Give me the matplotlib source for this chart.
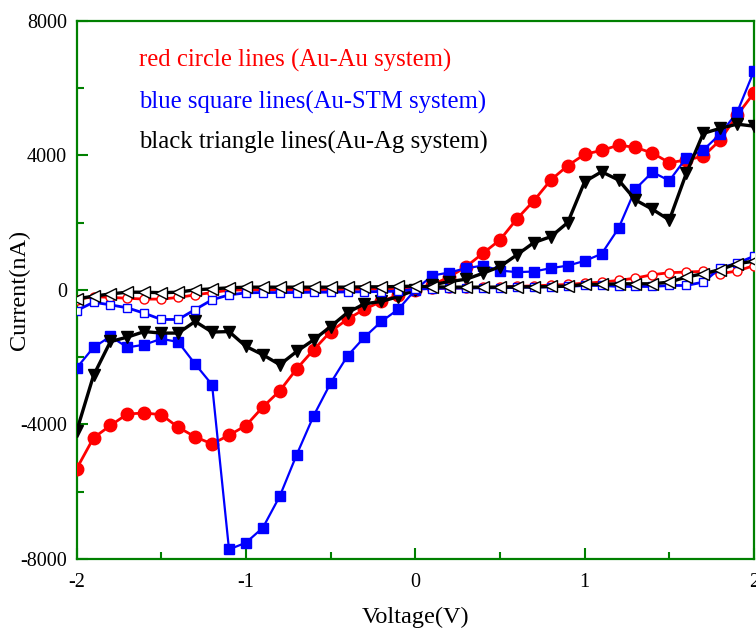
import numpy as np
import matplotlib.pyplot as plt
from matplotlib.ticker import MultipleLocator

plt.rcParams['font.family'] = ['Liberation Serif', 'DejaVu Serif']
plt.rcParams['axes.unicode_minus'] = False

V = np.round(np.arange(-2.0, 2.01, 0.1), 1)

# Au-Au, filled circles
au_au = [-5320, -4400, -4030, -3690, -3660, -3710, -4085, -4370, -4580, -4320,
         -4035, -3480, -3000, -2345, -1780, -1240, -870, -575, -345, -150,
         0, 150, 380, 690, 1090, 1485, 2110, 2650, 3265, 3690,
         4030, 4145, 4300, 4235, 4065, 3780, 3860, 3970, 4450, 5190, 5855]
# Au-STM, filled squares
au_stm = [-2325, -1710, -1385, -1710, -1630, -1455, -1550, -2205, -2820, -7715,
          -7515, -7070, -6130, -4895, -3740, -2770, -1960, -1405, -940, -575,
          0, 425, 515, 645, 720, 575, 525, 545, 645, 720,
          860, 1070, 1830, 3000, 3500, 3245, 3925, 4155, 4630, 5275, 6510]
# Au-Ag, filled down triangles
au_ag = [-4205, -2545, -1535, -1405, -1240, -1285, -1285, -940, -1255, -1240,
         -1680, -1930, -2225, -1830, -1485, -1090, -675, -415, -345, -200,
         0, 150, 245, 315, 495, 690, 1040, 1405, 1580, 2000,
         3215, 3510, 3265, 2670, 2395, 2075, 3460, 4650, 4800, 4925, 4865]

# open-marker curves
au_au_b = [-295, -200, -225, -250, -275, -275, -225, -150, -80, -10,
           0, 0, 10, 10, 10, 10, 10, 20, 20, 20,
           30, 40, 50, 60, 70, 80, 100, 120, 140, 160,
           200, 230, 280, 350, 450, 510, 530, 550, 480, 560, 720]
au_stm_b = [-615, -370, -445, -535, -695, -880, -880, -585, -295, -150,
            -90, -80, -80, -80, -70, -70, -60, -60, -50, -40,
            20, 40, 50, 50, 60, 60, 70, 80, 90, 100,
            130, 130, 100, 100, 100, 130, 130, 230, 650, 790, 1000]
au_ag_b = [-265, -190, -120, -70, -70, -85, -70, 0, 30, 60,
           80, 80, 80, 80, 80, 80, 80, 90, 90, 100,
           110, 90, 80, 80, 80, 80, 90, 90, 100, 110,
           160, 160, 180, 180, 180, 230, 380, 480, 600, 780, 850]

fig = plt.figure(figsize=(7.56, 6.33), dpi=100)
ax = fig.add_axes([0.1013, 0.1169, 0.8961, 0.8504])

ax.plot(V, au_au, '-o', color='red', lw=2, ms=9, zorder=3)
ax.plot(V, au_stm, '-s', color='blue', lw=1.6, ms=7.5, zorder=3)
ax.plot(V, au_ag, '-v', color='black', lw=2.4, ms=9, zorder=4)
ax.plot(V, au_au_b, '-o', color='red', lw=2, ms=6.5, mfc='white', mec='red', zorder=5)
ax.plot(V, au_stm_b, '-s', color='blue', lw=2, ms=6, mfc='white', mec='blue', zorder=5)
ax.plot(V, au_ag_b, '-<', color='black', lw=2.4, ms=8, mfc='white', mec='black',
        mew=1, zorder=6)

ax.set_xlim(-2, 2)
ax.set_ylim(-8000, 8000)
ax.xaxis.set_major_locator(MultipleLocator(1))
ax.xaxis.set_minor_locator(MultipleLocator(0.5))
ax.yaxis.set_major_locator(MultipleLocator(4000))
ax.yaxis.set_minor_locator(MultipleLocator(2000))

for s in ax.spines.values():
    s.set_color('green')
    s.set_linewidth(1.6)
ax.tick_params(which='both', direction='in', color='green', width=1.5,
               labelsize=14.5)
ax.tick_params(axis='x', pad=10)
ax.tick_params(axis='y', pad=7)
ax.tick_params(which='major', length=8)
ax.tick_params(which='minor', length=5)

ax.set_xlabel('Voltage(V)', fontsize=17.5)
ax.set_ylabel('Current(nA)', fontsize=17.5)
ax.xaxis.set_label_coords(0.5, -0.088)
ax.yaxis.set_label_coords(-0.068, 0.5)

ax.text(0.092, 0.927, 'red circle lines (Au-Au system)', color='red',
        fontsize=17.8, transform=ax.transAxes, va='center')
ax.text(0.092, 0.849, 'blue square lines(Au-STM system)', color='blue',
        fontsize=17.8, transform=ax.transAxes, va='center')
ax.text(0.092, 0.773, 'black triangle lines(Au-Ag system)', color='black',
        fontsize=17.8, transform=ax.transAxes, va='center')

fig.savefig('out.png', dpi=100)
